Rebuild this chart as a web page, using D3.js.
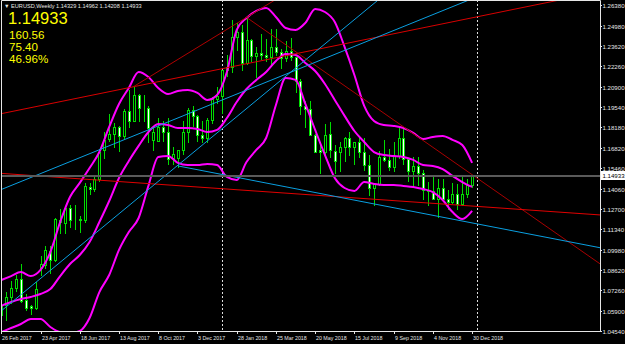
<!DOCTYPE html>
<html>
<head>
<meta charset="utf-8">
<script src="https://cdnjs.cloudflare.com/ajax/libs/d3/7.8.5/d3.min.js"></script>
<style>
html, body { margin: 0; padding: 0; background: #000; }
svg { display: block; }
text { font-family: "Liberation Sans", Arial, sans-serif; }
</style>
</head>
<body>
<div id="chart"></div>
<script>
var width = 625,
    height = 344,
    plotRight = 600,
    plotBottom = 331;

// weekly bars, index 0 = 26 Feb 2017
var opens = [1.0560,1.0625,1.0685,1.0740,1.0800,1.0660,1.0620,1.0610,1.0875,1.0895,
  1.0990,1.0930,1.1200,1.1175,1.1280,1.1200,1.1205,1.1200,1.1420,1.1405,
  1.1475,1.1665,1.1740,1.1775,1.1820,1.1760,1.1925,1.1860,1.2035,1.1945,
  1.1950,1.1735,1.1730,1.1822,1.1785,1.1610,1.1610,1.1665,1.1790,1.1935,
  1.1895,1.1770,1.1750,1.1865,1.2005,1.2030,1.2200,1.2220,1.2425,1.2460,
  1.2250,1.2405,1.2295,1.2315,1.2305,1.2290,1.2355,1.2320,1.2280,1.2330,
  1.2290,1.2130,1.1960,1.1940,1.1770,1.1665,1.1655,1.1775,1.1660,1.1655,
  1.1685,1.1745,1.1685,1.1720,1.1655,1.1565,1.1410,1.1440,1.1620,1.1600,
  1.1550,1.1625,1.1750,1.1605,1.1525,1.1560,1.1510,1.1400,1.1390,1.1335,
  1.1415,1.1340,1.1315,1.1375,1.1305,1.1370,1.14329];
var highs = [1.0645,1.0715,1.0790,1.0830,1.0906,1.0700,1.0630,1.0780,1.0955,1.1025,
  1.1023,1.1210,1.1268,1.1285,1.1296,1.1296,1.1225,1.1445,1.1445,1.1490,
  1.1670,1.1790,1.1910,1.1845,1.1830,1.1940,1.2070,1.2092,1.2040,1.2035,
  1.1960,1.1830,1.1880,1.1860,1.1880,1.1690,1.1665,1.1860,1.1945,1.1960,
  1.1900,1.1860,1.1880,1.2023,1.2090,1.2200,1.2300,1.2537,1.2520,1.2505,
  1.2555,1.2410,1.2355,1.2445,1.2410,1.2475,1.2475,1.2345,1.2395,1.2414,
  1.2290,1.2140,1.1995,1.1995,1.1775,1.1720,1.1840,1.1852,1.1700,1.1720,
  1.1755,1.1790,1.1720,1.1750,1.1745,1.1630,1.1445,1.1660,1.1735,1.1675,
  1.1720,1.1815,1.1815,1.1615,1.1620,1.1620,1.1530,1.1455,1.1500,1.1470,
  1.1470,1.1400,1.1445,1.1440,1.1485,1.1475,1.14962];
var lows = [1.0495,1.0525,1.0640,1.0725,1.0650,1.0595,1.0570,1.0600,1.0830,1.0875,
  1.0840,1.0925,1.1110,1.1110,1.1150,1.1140,1.1120,1.1185,1.1375,1.1395,
  1.1460,1.1615,1.1730,1.1690,1.1660,1.1745,1.1823,1.1860,1.1860,1.1860,
  1.1720,1.1669,1.1730,1.1730,1.1575,1.1575,1.1553,1.1640,1.1720,1.1830,
  1.1730,1.1718,1.1720,1.1850,1.1980,1.1915,1.2165,1.2190,1.2335,1.2205,
  1.2245,1.2260,1.2155,1.2275,1.2260,1.2240,1.2305,1.2215,1.2260,1.2270,
  1.2055,1.1910,1.1820,1.1765,1.1650,1.1510,1.1640,1.1620,1.1513,1.1525,
  1.1590,1.1630,1.1575,1.1620,1.1530,1.1365,1.1300,1.1430,1.1590,1.1530,
  1.1525,1.1615,1.1570,1.1460,1.1430,1.1430,1.1336,1.1300,1.1335,1.1216,
  1.1325,1.1270,1.1310,1.1270,1.1300,1.1355,1.14208];
var closes = [1.0625,1.0685,1.0740,1.0800,1.0652,1.0605,1.0605,1.0735,1.0900,1.0995,
  1.0930,1.1205,1.1185,1.1280,1.1195,1.1195,1.1195,1.1425,1.1405,1.1470,
  1.1655,1.1735,1.1775,1.1820,1.1760,1.1925,1.1860,1.2035,1.1945,1.1950,
  1.1815,1.1785,1.1822,1.1785,1.1608,1.1640,1.1665,1.1790,1.1935,1.1895,
  1.1770,1.1750,1.1865,1.2005,1.2030,1.2200,1.2220,1.2425,1.2460,1.2250,
  1.2405,1.2295,1.2315,1.2305,1.2290,1.2355,1.2320,1.2280,1.2330,1.2290,
  1.2130,1.1960,1.1940,1.1770,1.1650,1.1655,1.1770,1.1665,1.1590,1.1685,
  1.1745,1.1685,1.1720,1.1655,1.1565,1.1410,1.1440,1.1620,1.1600,1.1550,
  1.1625,1.1750,1.1605,1.1525,1.1560,1.1510,1.1400,1.1390,1.1335,1.1415,
  1.1340,1.1315,1.1375,1.1305,1.1370,1.1430,1.14933];

// bollinger bands read every second bar (0, 2, 4 ... 96)
var upperBand = [1.0796,1.0822,1.0849,1.0822,1.0863,1.0983,1.1184,1.1352,1.1446,1.1546,
  1.1653,1.1821,1.1975,1.2082,1.2189,1.2156,1.2082,1.2042,1.2062,1.2069,
  1.2049,1.2002,1.2035,1.2189,1.2471,1.2551,1.2598,1.2618,1.2558,1.2484,
  1.2471,1.2518,1.2611,1.2591,1.2524,1.2357,1.2169,1.1962,1.1861,1.1834,
  1.1828,1.1814,1.1781,1.1740,1.1754,1.1761,1.1734,1.1700,1.1580];
var middleBand = [1.0622,1.0648,1.0668,1.0682,1.0702,1.0735,1.0822,1.0903,1.0963,1.1050,
  1.1184,1.1325,1.1479,1.1593,1.1694,1.1787,1.1841,1.1834,1.1814,1.1814,
  1.1807,1.1787,1.1801,1.1881,1.1988,1.2075,1.2136,1.2189,1.2263,1.2310,
  1.2303,1.2250,1.2196,1.2109,1.2002,1.1895,1.1794,1.1720,1.1653,1.1633,
  1.1627,1.1620,1.1600,1.1566,1.1560,1.1539,1.1493,1.1452,1.1419];
var lowerBand = [1.0447,1.0474,1.0501,1.0534,1.0534,1.0481,1.0447,1.0441,1.0454,1.0541,
  1.0715,1.0829,1.0997,1.1117,1.1211,1.1426,1.1620,1.1627,1.1580,1.1566,
  1.1566,1.1573,1.1566,1.1486,1.1466,1.1586,1.1667,1.1747,1.1968,1.2149,
  1.2136,1.1975,1.1801,1.1633,1.1479,1.1412,1.1392,1.1452,1.1439,1.1432,
  1.1432,1.1426,1.1419,1.1405,1.1385,1.1332,1.1251,1.1204,1.1258];

// trend lines: [bar1, price1, bar2, price2], ray = only to the right of bar1
var redLines = [
  {p: [0, 1.1910, 90, 1.2512], ray: false, color: "#d80000"},
  {p: [27, 1.2092, 50, 1.2555], ray: true, color: "#b00000"},
  {p: [50, 1.2555, 81, 1.1845], ray: true, color: "#a80000"},
  {p: [0, 1.1510, 96, 1.1291], ray: false, color: "#e00000"}
];
var blueLines = [
  {p: [0, 1.1402, 80, 1.2467], ray: false, color: "#0a9fe0"},
  {p: [0, 1.0589, 60, 1.2215], ray: false, color: "#0a9fe0"},
  {p: [36, 1.1560, 96, 1.1178], ray: true, color: "#0a9fe0"}
];

var tickBars = [0, 8, 16, 24, 32, 40, 48, 56, 64, 72, 80, 88, 96];
var tickDates = ["26 Feb 2017", "23 Apr 2017", "18 Jun 2017", "13 Aug 2017", "8 Oct 2017",
  "3 Dec 2017", "28 Jan 2018", "25 Mar 2018", "20 May 2018", "15 Jul 2018",
  "9 Sep 2018", "4 Nov 2018", "30 Dec 2018"];
var priceTicks = ["1.26380", "1.24980", "1.23620", "1.22260", "1.20900", "1.19540", "1.18180",
  "1.16820", "1.15460", "1.14060", "1.12700", "1.11340", "1.09980", "1.08620",
  "1.07260", "1.05900", "1.04540"];
var separatorBars = [45, 97];
var bid = 1.14933;
var infoLines = ["160.56", "75.40", "46.96%"];

var x = d3.scaleLinear().domain([0, 96]).range([1.3, 472.1]);
var y = d3.scaleLinear().domain([1.0454, 1.2638]).range([331, 5]);

var svg = d3.select("#chart").append("svg")
    .attr("width", width)
    .attr("height", height);

svg.append("rect").attr("width", width).attr("height", height).attr("fill", "#000");

svg.append("clipPath").attr("id", "plot")
  .append("rect").attr("x", 1).attr("y", 0).attr("width", plotRight - 1).attr("height", plotBottom);

var plot = svg.append("g").attr("clip-path", "url(#plot)");

// period separators
plot.selectAll(".sep")
    .data(separatorBars)
    .enter().append("line")
    .attr("x1", function(d) { return Math.round(x(d)) + 0.5; })
    .attr("x2", function(d) { return Math.round(x(d)) + 0.5; })
    .attr("y1", 0).attr("y2", plotBottom)
    .style("stroke", "#ddd")
    .style("stroke-dasharray", "2,2");

// candles
var bars = plot.selectAll(".bar")
    .data(opens.map(function(o, i) {
        return {i: i, o: o, h: highs[i], l: lows[i], c: closes[i]};
    }))
    .enter().append("g");

bars.append("line")
    .attr("x1", function(d) { return Math.round(x(d.i)) + 0.5; })
    .attr("x2", function(d) { return Math.round(x(d.i)) + 0.5; })
    .attr("y1", function(d) { return Math.round(y(d.h)); })
    .attr("y2", function(d) { return Math.round(y(d.l)) + 1; })
    .style("stroke", "#00dc00");

bars.append("rect")
    .attr("x", function(d) { return Math.round(x(d.i)) - 0.5; })
    .attr("y", function(d) { return Math.round(y(Math.max(d.o, d.c))) + 0.5; })
    .attr("width", 2)
    .attr("height", function(d) { return Math.abs(Math.round(y(d.o)) - Math.round(y(d.c))); })
    .attr("fill", function(d) { return d.c >= d.o ? "#000" : "#fff"; })
    .style("stroke", "#00dc00");

// bollinger bands
var band = d3.line()
    .x(function(d, i) { return x(i * 2); })
    .y(function(d) { return y(d); })
    .curve(d3.curveMonotoneX);

[upperBand, middleBand, lowerBand].forEach(function(b) {
    plot.append("path")
        .attr("d", band(b))
        .style("fill", "none")
        .style("stroke", "#ff00ff")
        .style("stroke-width", 2);
});

// trend lines
function drawTrend(t) {
    var x1 = x(t.p[0]), y1 = y(t.p[1]), x2 = x(t.p[2]), y2 = y(t.p[3]);
    var m = (y2 - y1) / (x2 - x1);
    var xa = t.ray ? x1 : -20, xb = 640;
    plot.append("line")
        .attr("x1", xa).attr("y1", y1 + m * (xa - x1))
        .attr("x2", xb).attr("y2", y1 + m * (xb - x1))
        .style("stroke", t.color)
        .style("stroke-width", 1);
}
redLines.forEach(drawTrend);
blueLines.forEach(drawTrend);

// bid line
plot.append("line")
    .attr("x1", 0).attr("x2", plotRight)
    .attr("y1", Math.round(y(bid))).attr("y2", Math.round(y(bid)))
    .style("stroke", "#5a5a5a")
    .style("stroke-width", 2);

// frame
svg.append("path")
    .attr("d", "M1.5,0.5V" + (plotBottom + 0.5) + "H" + (plotRight + 0.5) + "V0.5H1.5")
    .style("fill", "none")
    .style("stroke", "#e6e6e6");

// price axis
var pa = svg.selectAll(".pt")
    .data(priceTicks)
    .enter().append("g")
    .attr("transform", function(d) { return "translate(0," + Math.round(y(+d)) + ")"; });
pa.append("line")
    .attr("x1", plotRight).attr("x2", plotRight + 2)
    .attr("y1", 0.5).attr("y2", 0.5)
    .style("stroke", "#e6e6e6");
pa.append("text")
    .attr("x", plotRight + 2.5).attr("y", 2.5)
    .attr("fill", "#e6e6e6")
    .style("font-size", "6.1px")
    .text(function(d) { return d; });

var by = Math.round(y(bid));
svg.append("rect")
    .attr("x", plotRight + 1.5).attr("y", by - 4.5)
    .attr("width", 23).attr("height", 8)
    .attr("fill", "#fff").style("stroke", "#fff");
svg.append("text")
    .attr("x", plotRight + 2.5).attr("y", by + 2.3)
    .attr("fill", "#000")
    .style("font-size", "6.1px")
    .text(d3.format(".5f")(bid));

// time axis
var ta = svg.selectAll(".tt")
    .data(tickBars)
    .enter().append("g")
    .attr("transform", function(d) { return "translate(" + (Math.round(x(d)) + 0.5) + ",0)"; });
ta.append("line")
    .attr("y1", plotBottom).attr("y2", plotBottom + 3)
    .style("stroke", "#e6e6e6");
ta.append("text")
    .attr("x", 0.5).attr("y", 339.5)
    .attr("fill", "#e6e6e6")
    .style("font-size", "5.3px")
    .text(function(d, i) { return tickDates[i]; });

// header
svg.append("text")
    .attr("x", 4).attr("y", 7.5)
    .attr("fill", "#e6e6e6")
    .style("font-size", "5.6px")
    .text("\u25BC EURUSD,Weekly  " + [opens[96], highs[96], lows[96], closes[96]].map(d3.format(".5f")).join(" "));

svg.append("text")
    .attr("x", 8).attr("y", 24)
    .attr("fill", "#ffff00")
    .style("font-size", "16.5px")
    .text(d3.format(".5f")(bid));

svg.selectAll(".info")
    .data(infoLines)
    .enter().append("text")
    .attr("x", 9).attr("y", function(d, i) { return 38.5 + i * 12; })
    .attr("fill", "#ffff00")
    .style("font-size", "11.6px")
    .text(function(d) { return d; });
</script>
</body>
</html>
